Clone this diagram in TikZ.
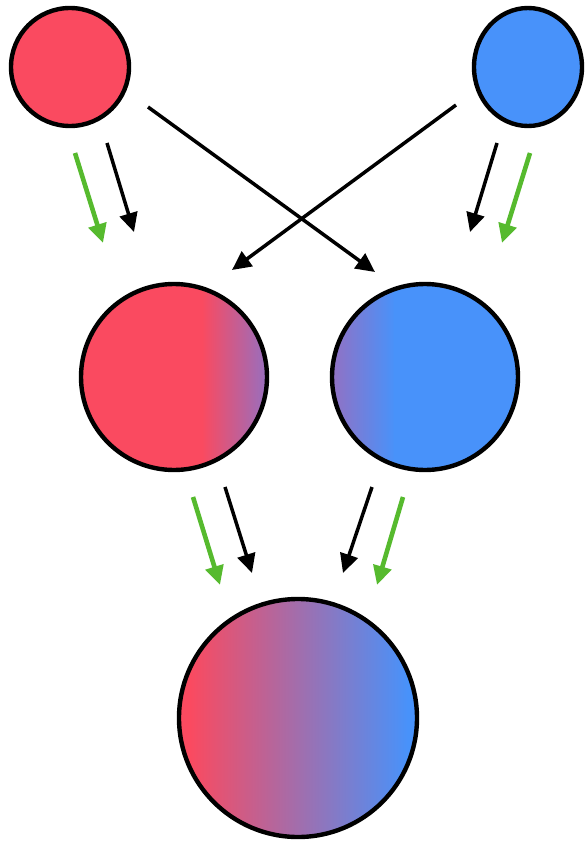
\documentclass[tikz,border=0pt]{standalone}
\usetikzlibrary{arrows.meta,shapes.geometric}
\definecolor{cred}{RGB}{250,74,96}
\definecolor{cblue}{RGB}{72,146,250}
\definecolor{cpurp}{RGB}{148,112,194}
\definecolor{cgreen}{RGB}{86,186,46}
\begin{document}
\begin{tikzpicture}[x=1pt,y=-1pt,
 ball/.style={circle, draw=black, line width=4.4pt, inner sep=0pt},
 blk/.style={draw=black, line width=3.5pt, -{Triangle[length=19pt,width=18pt]}},
 grn/.style={draw=cgreen, line width=4.6pt, -{Triangle[length=19pt,width=18pt]}}]
\useasboundingbox (0,0) rectangle (585,843);
\fill[white] (0,0) rectangle (585,843);
% top circles
\node[ball, minimum size=118pt, fill=cred] (tl) at (70,67) {};
\node[ellipse, draw=black, line width=4.4pt, inner sep=0pt, minimum width=108pt, minimum height=118pt, fill=cblue] (tr) at (528,67) {};
% middle left fill
\begin{scope}
\clip (174,377) circle[radius=94pt];
\fill[cred] (78,281) rectangle (203,474);
\shade[left color=cred, right color=cpurp] (202,281) rectangle (269,474);
\end{scope}
\node[ball, minimum size=186pt] (ml) at (174,377) {};
% middle right fill
\begin{scope}
\clip (425,377) circle[radius=94pt];
\shade[left color=cpurp, right color=cblue] (330,281) rectangle (395,474);
\fill[cblue] (394,281) rectangle (521,474);
\end{scope}
\node[ball, minimum size=186pt] (mr) at (425,377) {};
% bottom fill
\begin{scope}
\clip (298,718) circle[radius=120pt];
\fill[cred] (176,596) rectangle (191,842);
\shade[left color=cred, middle color=cpurp, right color=cblue] (190,596) rectangle (408,842);
\fill[cblue] (407,596) rectangle (420,842);
\end{scope}
\node[ball, minimum size=238pt] (bt) at (298,718) {};
% arrow coordinates
\coordinate (gls) at (75,153);  \coordinate (gle) at (103,243);
\coordinate (kls) at (107,143); \coordinate (kle) at (134,232);
\coordinate (xls) at (148,107); \coordinate (xle) at (375,272);
\coordinate (xrs) at (456,105); \coordinate (xre) at (232,270);
\coordinate (krs) at (497,143); \coordinate (kre) at (470,232);
\coordinate (grs) at (530,153); \coordinate (gre) at (502,243);
\coordinate (bgls) at (193,497); \coordinate (bgle) at (220,585);
\coordinate (bkls) at (225,487); \coordinate (bkle) at (252,573);
\coordinate (bkrs) at (372,487); \coordinate (bkre) at (343,573);
\coordinate (bgrs) at (403,497); \coordinate (bgre) at (377,585);
% arrows
\draw[grn] (gls) -- (gle);
\draw[blk] (kls) -- (kle);
\draw[blk] (xls) -- (xle);
\draw[blk] (xrs) -- (xre);
\draw[blk] (krs) -- (kre);
\draw[grn] (grs) -- (gre);
\draw[grn] (bgls) -- (bgle);
\draw[blk] (bkls) -- (bkle);
\draw[blk] (bkrs) -- (bkre);
\draw[grn] (bgrs) -- (bgre);
\end{tikzpicture}
\end{document}
